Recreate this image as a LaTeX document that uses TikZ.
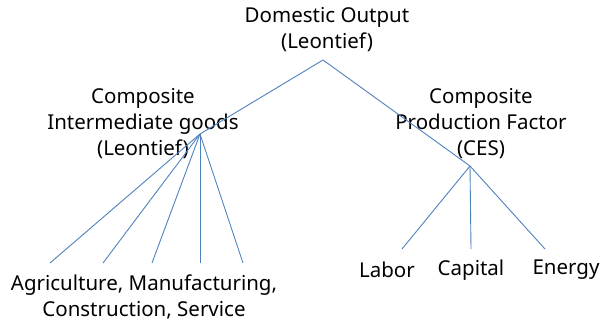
\documentclass[tikz,border=0pt]{standalone}
\usepackage{fontspec}
\setmainfont{Noto Sans}
\definecolor{linkblue}{HTML}{4F81BD}
\begin{document}
\begin{tikzpicture}[x=1pt,y=-1pt,
  lbl/.style={inner sep=0pt,align=center,font=\fontsize{20.5}{26}\selectfont,text=black},
  link/.style={draw=linkblue,line width=0.9pt}]
\useasboundingbox (0,0) rectangle (600,323);
% labels
\node[lbl] (top) at (327,30) {Domestic Output\\(Leontief)};
\node[lbl] (cig) at (143,124) {Composite\\Intermediate goods\\(Leontief)};
\node[lbl] (cpf) at (481,124) {Composite\\Production Factor\\(CES)};
\node[lbl] (sec) at (144,297) {Agriculture, Manufacturing,\\Construction, Service};
\node[lbl] (lab) at (387,270) {Labor};
\node[lbl] (cap) at (471,270) {Capital};
\node[lbl] (ene) at (566,270) {Energy};
% junction points
\coordinate (jt) at (323,60);
\coordinate (jl) at (200,134);
\coordinate (jr) at (470,166);
\coordinate (s1) at (50,263);
\coordinate (s2) at (103,263);
\coordinate (s3) at (152,263);
\coordinate (s4) at (200,263);
\coordinate (s5) at (243,263);
\coordinate (f1) at (402,249);
\coordinate (f2) at (471,249);
\coordinate (f3) at (545,249);
% connectors
\draw[link] (jt) -- (jl);
\draw[link] (jt) -- (jr);
\foreach \s in {s1,s2,s3,s4,s5} \draw[link] (jl) -- (\s);
\foreach \f in {f1,f2,f3} \draw[link] (jr) -- (\f);
\end{tikzpicture}
\end{document}
